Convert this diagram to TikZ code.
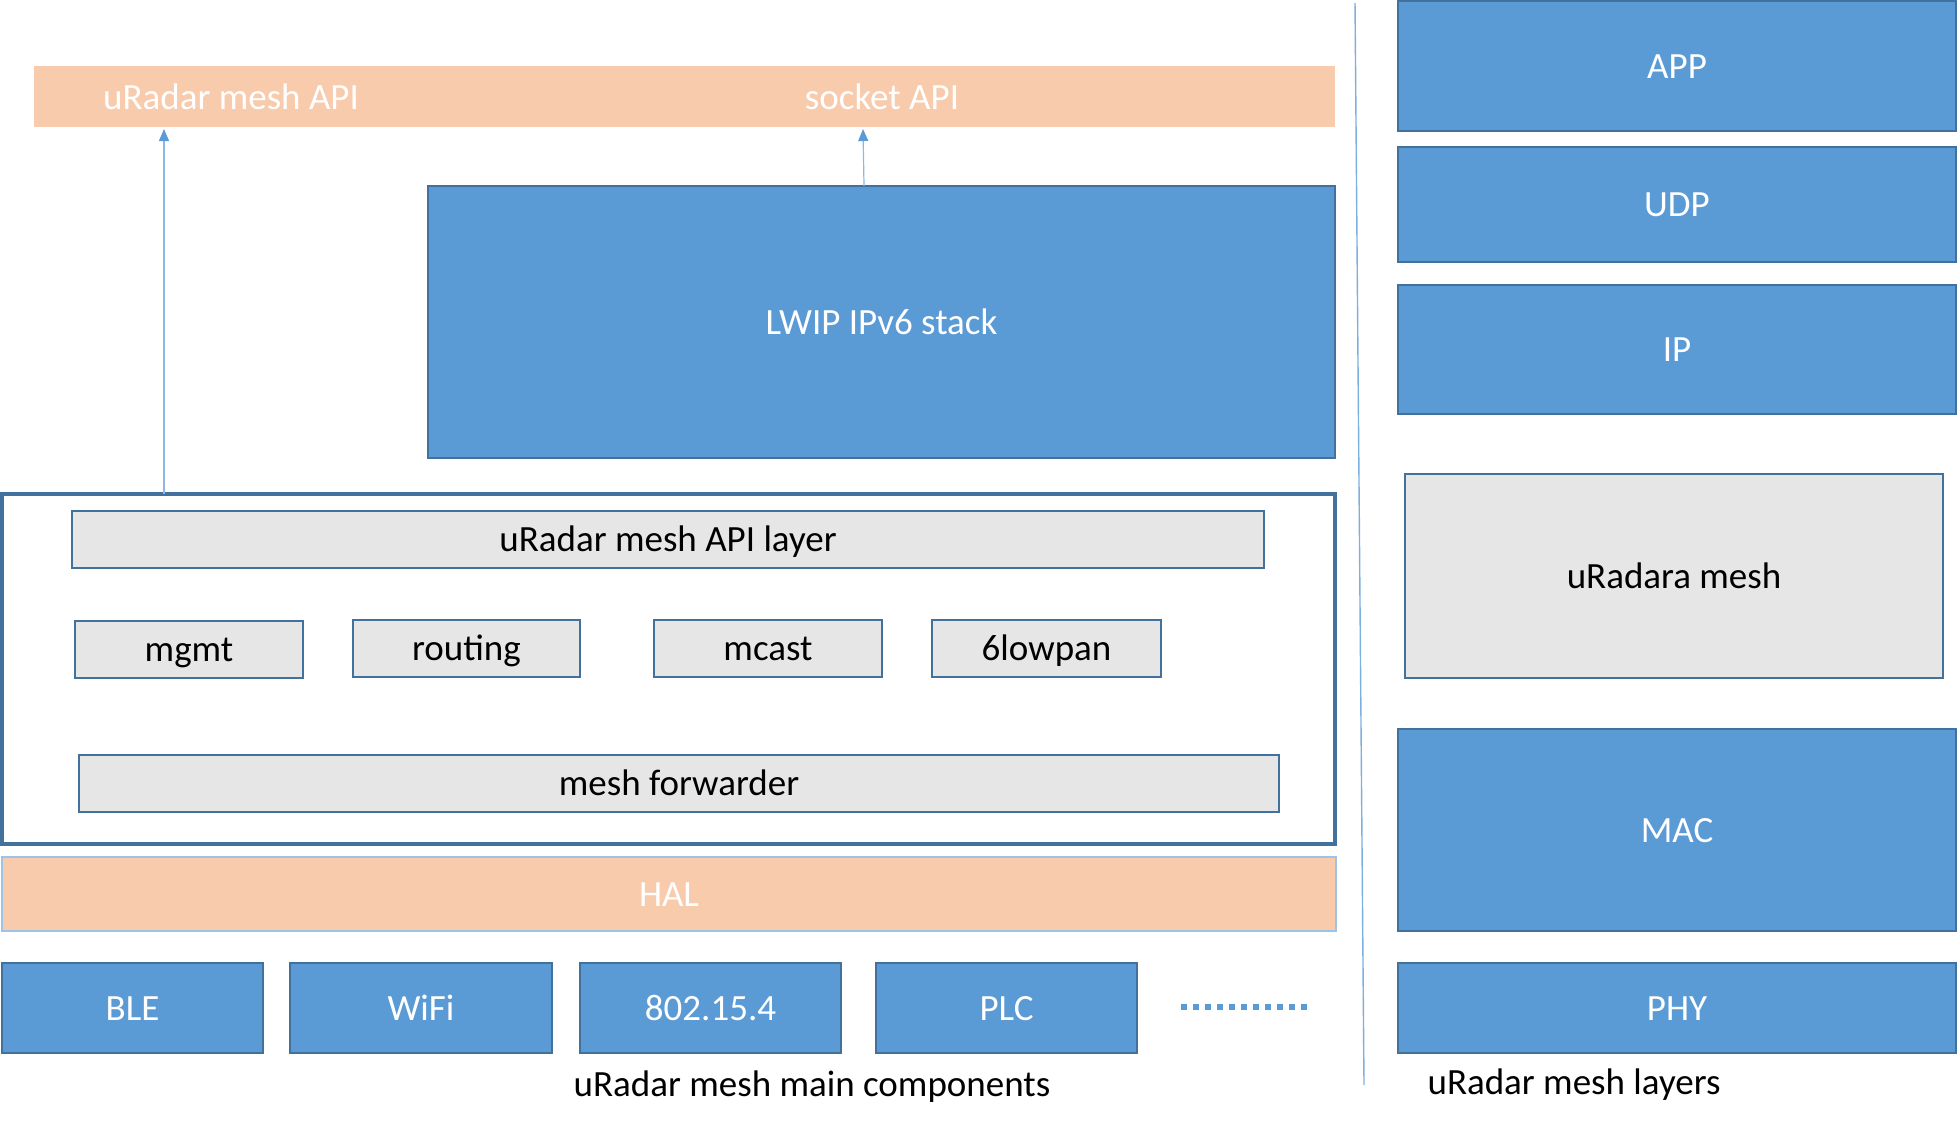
\documentclass[tikz,border=0pt]{standalone}
\usepackage{fontspec}
\setmainfont{Carlito}
\usetikzlibrary{arrows.meta}
\definecolor{bfill}{HTML}{5B9BD5}
\definecolor{bline}{HTML}{41719C}
\definecolor{peach}{HTML}{F8CBAD}
\definecolor{gfill}{HTML}{E6E6E6}
\definecolor{halline}{HTML}{9DC3E6}
\newcommand\boxnode[7]{%
  \node[#1, minimum width={(#5-#3)*0.5pt}, minimum height={(#6-#4)*0.5pt}, inner sep=0pt, outer sep=0pt] (#2) at ({(#3+#5)/2},{(#4+#6)/2}) {#7};}
\begin{document}
\begin{tikzpicture}[x=0.5pt,y=-0.5pt,
  every node/.style={font=\fontsize{18.5}{22}\selectfont, text height=16pt, text depth=4pt},
  bluebox/.style={draw=bline, line width=1pt, fill=bfill, text=white},
  graybox/.style={draw=bline, line width=1pt, fill=gfill, text=black},
  peachbar/.style={fill=peach, text=white},
  halbar/.style={draw=halline, line width=1pt, fill=peach, text=white},
  outerbox/.style={draw=bline, line width=1.75pt, fill=none},
  arr/.style={draw=bfill!70, line width=0.6pt, -{Triangle[length=6pt,width=5pt,fill=bfill,color=bfill]}},
  sepline/.style={draw=bfill!80, line width=0.7pt},
  dotline/.style={draw=bfill, line width=3pt, dash pattern=on 3pt off 3pt},
  caption/.style={text=black}]
\useasboundingbox (0,0) rectangle (1957,1130);
% left part
\boxnode{peachbar}{api}{34}{66}{1335}{127}{}
\node[text=white] (apit1) at (231,97) {uRadar mesh API};
\node[text=white] (apit2) at (882,97) {socket API};
\boxnode{bluebox}{lwip}{428}{186}{1335}{458}{LWIP IPv6 stack}
\boxnode{outerbox}{outer}{2}{494}{1335}{844}{}
\boxnode{graybox}{apilayer}{72}{511}{1264}{568}{uRadar mesh API layer}
\boxnode{graybox}{mgmt}{75}{621}{303}{678}{mgmt}
\boxnode{graybox}{routing}{353}{620}{580}{677}{routing}
\boxnode{graybox}{mcast}{654}{620}{882}{677}{mcast}
\boxnode{graybox}{lowpan}{932}{620}{1161}{677}{6lowpan}
\boxnode{graybox}{fwd}{79}{755}{1279}{812}{mesh forwarder}
\boxnode{halbar}{hal}{2}{857}{1336}{931}{HAL}
\boxnode{bluebox}{ble}{2}{963}{263}{1053}{BLE}
\boxnode{bluebox}{wifi}{290}{963}{552}{1053}{WiFi}
\boxnode{bluebox}{ieee}{580}{963}{841}{1053}{802.15.4}
\boxnode{bluebox}{plc}{876}{963}{1137}{1053}{PLC}
\draw[dotline] (1181,1007) -- (1311,1007);
\node[caption] (cap1) at (812,1084) {uRadar mesh main components};
% arrows
\coordinate (a1s) at (164,494);
\coordinate (a2s) at (864,186);
\coordinate (a1e) at (164,129);
\coordinate (a2e) at (863,129);
\draw[arr] (a1s) -- (a1e);
\draw[arr] (a2s) -- (a2e);
% separator
\coordinate (s1) at (1355,3);
\coordinate (s2) at (1364,1085);
\draw[sepline] (s1) -- (s2);
% right column
\boxnode{bluebox}{app}{1398}{1}{1956}{131}{APP}
\boxnode{bluebox}{udp}{1398}{147}{1956}{262}{UDP}
\boxnode{bluebox}{ip}{1398}{285}{1956}{414}{IP}
\boxnode{graybox}{urm}{1405}{474}{1943}{678}{uRadara mesh}
\boxnode{bluebox}{mac}{1398}{729}{1956}{931}{MAC}
\boxnode{bluebox}{phy}{1398}{963}{1956}{1053}{PHY}
\node[caption] (cap2) at (1574,1082) {uRadar mesh layers};
\end{tikzpicture}
\end{document}
